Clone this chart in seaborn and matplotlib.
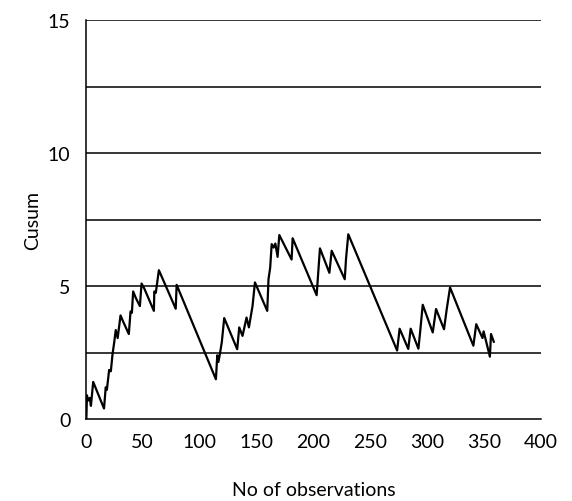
import matplotlib
matplotlib.use("Agg")
import matplotlib.pyplot as plt
import seaborn as sns
import pandas as pd

# Vertices of the cusum trace (observation number, cusum value)
obs = [0.5, 1, 2, 3.5, 4.5, 6.5, 16, 17.5, 18.5, 20.5, 22, 23.5, 25, 26.3, 28,
       30.5, 33, 37.8, 39.3, 40.5, 41.6, 44, 47.5, 49, 51.5, 59.8, 60.2, 61.5,
       64.2, 79, 79.8, 114.3, 115.5, 116.5, 117.8, 119.5, 121.6, 133, 134.8,
       137.7, 141.2, 143.3, 146.5, 148.6, 159.4, 160.5, 162, 163.3, 165, 166.5,
       168.5, 170, 180.8, 181.7, 202.8, 205.7, 214, 216, 227.5, 228.6, 230.6,
       273.5, 275.7, 283.3, 285.4, 292.2, 294, 296, 304.8, 307.7, 314.7, 317.1,
       320, 340.5, 343, 348.5, 349.5, 355, 356, 358.5]
cusum = [0, 0.9, 0.7, 0.8, 0.5, 1.4, 0.4, 1.2, 1.1, 1.85, 1.8, 2.45, 2.9, 3.35, 3.05,
         3.9, 3.65, 3.2, 4.05, 4.0, 4.8, 4.55, 4.25, 5.1, 4.9, 4.07, 4.8, 4.75,
         5.6, 4.15, 5.05, 1.5, 2.4, 2.15, 2.45, 2.9, 3.8, 2.63, 3.45,
         3.13, 3.82, 3.45, 4.26, 5.14, 4.07, 5.26, 5.7, 6.58, 6.45, 6.6,
         6.1, 6.92, 6.0, 6.8, 4.66, 6.42, 5.5, 6.33, 5.26, 6.02, 6.95,
         2.58, 3.4, 2.64, 3.4, 2.65, 3.4, 4.3, 3.26, 4.14, 3.38, 4.14,
         4.95, 2.76, 3.57, 3.05, 3.3, 2.35, 3.2, 2.9]

x_ticks = [0, 50, 100, 150, 200, 250, 300, 350, 400]
y_ticks = [0, 5, 10, 15]
grid_levels = [2.5, 5, 7.5, 10, 12.5, 15]

sns.set_theme(style="white")
plt.rcParams['font.family'] = ['Lato', 'DejaVu Sans']

df = pd.DataFrame({"obs": obs, "cusum": cusum})

fig = plt.figure(figsize=(5.72, 5.02), dpi=100)
ax = fig.add_axes([0.150, 0.163, 0.796, 0.795])

for g in grid_levels:
    ax.axhline(g, color="black", lw=1.1, zorder=1)

sns.lineplot(data=df, x="obs", y="cusum", estimator=None, sort=False,
             color="black", lw=1.6, ax=ax, zorder=3)

ax.set_xlim(0, 400)
ax.set_ylim(0, 15)
ax.set_xticks(x_ticks)
ax.set_yticks(y_ticks)
ax.set_xticklabels([str(v) for v in x_ticks], fontsize=14)
ax.set_yticklabels([str(v) for v in y_ticks], fontsize=14)
ax.tick_params(axis="x", direction="out", length=6, width=1.1, color="black", pad=4)
ax.tick_params(axis="y", direction="out", length=8, width=1.1, color="black", pad=3)
ax.tick_params(colors="black")

for s in ["top", "right"]:
    ax.spines[s].set_visible(False)
for s in ["left", "bottom"]:
    ax.spines[s].set_color("black")
    ax.spines[s].set_linewidth(1.1)

ax.set_xlabel("No of observations", fontsize=14, color="black", labelpad=22)
ax.set_ylabel("Cusum", fontsize=14, color="black", labelpad=5)

fig.savefig("out.png", dpi=100, facecolor="white")
